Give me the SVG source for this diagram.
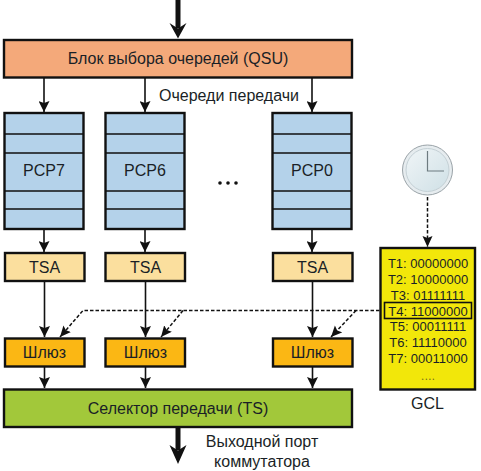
<svg xmlns="http://www.w3.org/2000/svg" width="481" height="471" viewBox="0 0 481 471">
<style>
text{font-family:"Liberation Sans",Arial,sans-serif;fill:#1a1f26;text-anchor:middle}
.t{font-size:16px}
.g{font-size:13px}
.b{stroke:#111;stroke-width:2.4}
.l{stroke:#111;stroke-width:1.6;fill:none}
.d{stroke:#111;stroke-width:1.5;stroke-dasharray:3.5 2;fill:none}
.q{fill:#b4d2ea}
.tsa{fill:#fbdf9e}
.sh{fill:#fbb714}
</style>
<defs>
<marker id="a" markerUnits="userSpaceOnUse" markerWidth="12" markerHeight="11" refX="11" refY="5.5" orient="auto"><path d="M0 0L11 5.5L0 11L2 5.5Z" fill="#111"/></marker>
<marker id="ad" markerUnits="userSpaceOnUse" markerWidth="12" markerHeight="11" refX="11" refY="5" orient="auto"><path d="M0 0L11 5L0 10L2 5Z" fill="#111"/></marker>
<linearGradient id="clk" x1="0" y1="0" x2="1" y2="1"><stop offset="0" stop-color="#f0f5f7"/><stop offset="1" stop-color="#cfe0e6"/></linearGradient>
</defs>
<g id="connectors">
<path class="l" d="M178 0V28" style="stroke-width:5"/>
<path d="M169.500 23L178 28.500L186.500 23L178 38.500Z" fill="#111"/>
<path class="l" d="M44 78V112" marker-end="url(#a)"/>
<path class="l" d="M145 78V112" marker-end="url(#a)"/>
<path class="l" d="M312 78V112" marker-end="url(#a)"/>
<path class="l" d="M44 229V252" marker-end="url(#a)"/>
<path class="l" d="M145 229V252" marker-end="url(#a)"/>
<path class="l" d="M312 229V252" marker-end="url(#a)"/>
<path class="l" d="M44.500 281V337" marker-end="url(#a)"/>
<path class="l" d="M145.500 281V337" marker-end="url(#a)"/>
<path class="l" d="M312.500 281V337" marker-end="url(#a)"/>
<path class="l" d="M44.500 367V388" marker-end="url(#a)"/>
<path class="l" d="M145.500 367V388" marker-end="url(#a)"/>
<path class="l" d="M312.500 367V388" marker-end="url(#a)"/>
<path class="d" d="M385 310.500H83L60 337" marker-end="url(#ad)"/>
<path class="d" d="M183 310.500L161 337" marker-end="url(#ad)"/>
<path class="d" d="M356 310.500L331 337" marker-end="url(#ad)"/>
<path class="d" d="M427.500 197V247" marker-end="url(#ad)"/>
<path class="l" d="M178 426V450" style="stroke-width:5"/>
<path d="M169.500 445L178 450.500L186.500 445L178 464Z" fill="#111"/>
</g>
<g id="qsu"><rect class="b" x="4" y="40" width="348" height="37.500" fill="#f4a97a"/><text class="t" x="178" y="64">Блок выбора очередей (QSU)</text></g>
<text id="label-queues" class="t" x="229" y="101">Очереди передачи</text>
<g id="pcp7"><rect class="b q" x="4.500" y="113" width="79" height="116"/><path class="l" d="M4.500 134H83.500M4.500 153H83.500M4.500 191H83.500M4.500 209H83.500"/><text class="t" x="44" y="176">PCP7</text></g>
<g id="pcp6"><rect class="b q" x="105.500" y="113" width="79" height="116"/><path class="l" d="M105.500 134H184.500M105.500 153H184.500M105.500 191H184.500M105.500 209H184.500"/><text class="t" x="145" y="176">PCP6</text></g>
<g id="pcp0"><rect class="b q" x="272.500" y="113" width="79" height="116"/><path class="l" d="M272.500 134H351.500M272.500 153H351.500M272.500 191H351.500M272.500 209H351.500"/><text class="t" x="312" y="176">PCP0</text></g>
<g id="dots"><circle cx="220" cy="183" r="1.800" fill="#111"/><circle cx="228" cy="183" r="1.800" fill="#111"/><circle cx="236" cy="183" r="1.800" fill="#111"/></g>
<g id="tsa7"><rect class="b tsa" x="5" y="253" width="79.500" height="28"/><text class="t" x="44.500" y="272.500">TSA</text></g>
<g id="tsa6"><rect class="b tsa" x="105.500" y="253" width="79.500" height="28"/><text class="t" x="145.500" y="272.500">TSA</text></g>
<g id="tsa0"><rect class="b tsa" x="273" y="253" width="79.500" height="28"/><text class="t" x="312.500" y="272.500">TSA</text></g>
<g id="gate7"><rect class="b sh" x="5" y="338.500" width="79.500" height="28"/><text class="t" x="44.500" y="358">Шлюз</text></g>
<g id="gate6"><rect class="b sh" x="105.500" y="338.500" width="79.500" height="28"/><text class="t" x="145.500" y="358">Шлюз</text></g>
<g id="gate0"><rect class="b sh" x="273" y="338.500" width="79.500" height="28"/><text class="t" x="312.500" y="358">Шлюз</text></g>
<g id="ts"><rect class="b" x="4" y="389.500" width="348" height="37.500" fill="#a2c83a"/><text class="t" x="178" y="414">Селектор передачи (TS)</text></g>
<g id="clock"><circle cx="427.500" cy="170" r="25" fill="#e6ecef" stroke="#9aa3a8" stroke-width="1"/><circle cx="427.500" cy="170" r="21.500" fill="url(#clk)" stroke="#c4d0d5"/><path d="M427.500 151V171H444" fill="none" stroke="#6d7b80" stroke-width="1.200"/></g>
<g id="gcl"><rect class="b" x="380.500" y="248" width="94.500" height="141.500" fill="#f2e70a"/>
<text class="g" x="428" y="268">T1: 00000000</text>
<text class="g" x="428" y="284">T2: 10000000</text>
<text class="g" x="428" y="300">T3: 01111111</text>
<rect x="384.500" y="302.500" width="87" height="16" fill="none" stroke="#111" stroke-width="1.600"/>
<text class="g" x="428" y="315.500">T4: 11000000</text>
<text class="g" x="428" y="331">T5: 00011111</text>
<text class="g" x="428" y="347">T6: 11110000</text>
<text class="g" x="428" y="363">T7: 00011000</text>
<text class="g" x="428" y="380" fill-opacity="0.6">....</text></g>
<text id="label-gcl" class="t" x="427.500" y="409">GCL</text>
<text id="label-out" class="t" x="262" y="447">Выходной порт</text>
<text id="label-out2" class="t" x="262" y="467">коммутатора</text>
</svg>
